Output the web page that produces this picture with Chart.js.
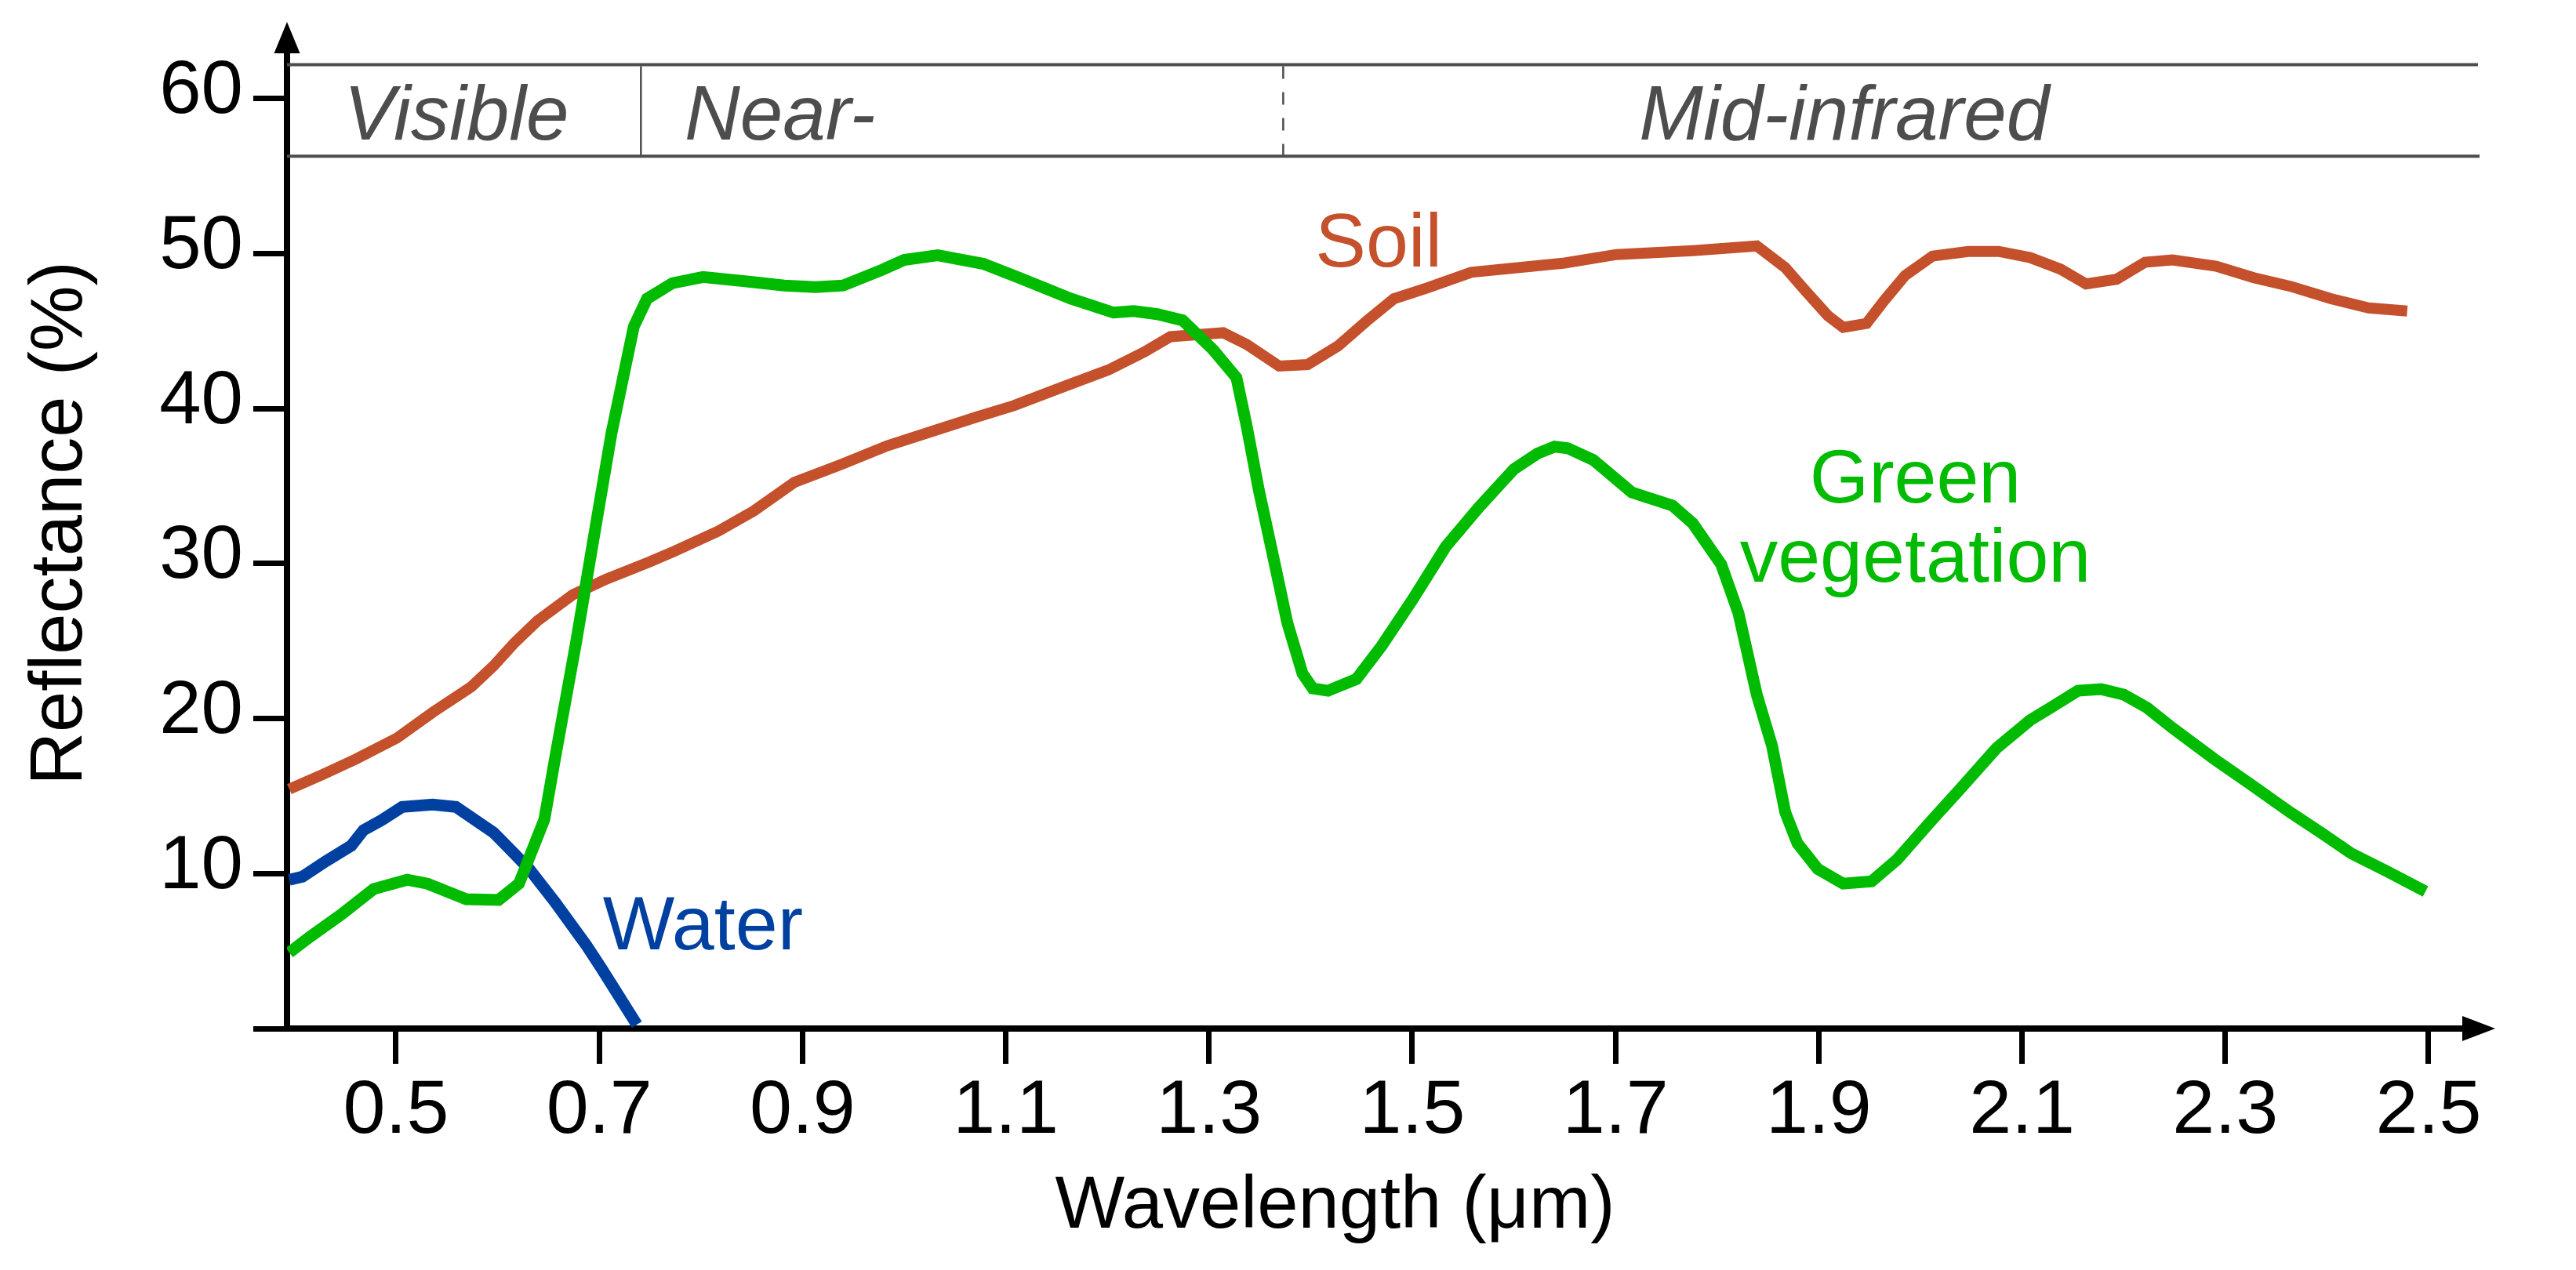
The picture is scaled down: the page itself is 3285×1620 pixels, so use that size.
<!DOCTYPE html>
<html>
<head>
<meta charset="utf-8">
<script src="https://cdn.jsdelivr.net/npm/chart.js@4.4.1/dist/chart.umd.min.js"></script>
<style>
html,body{margin:0;padding:0;background:#ffffff;}
#wrap{width:3285px;height:1620px;position:relative;}
</style>
</head>
<body>
<div id="wrap"><canvas id="c" width="3285" height="1620"></canvas></div>
<script>
// ---------------- data ----------------
const xTicks = [0.5, 0.7, 0.9, 1.1, 1.3, 1.5, 1.7, 1.9, 2.1, 2.3, 2.5];
const xTickLabels = ['0.5', '0.7', '0.9', '1.1', '1.3', '1.5', '1.7', '1.9', '2.1', '2.3', '2.5'];
const yTicks = [0, 10, 20, 30, 40, 50, 60];
const yTickLabels = ['', '10', '20', '30', '40', '50', '60'];

const soilX = [0.395, 0.428, 0.461, 0.501, 0.536, 0.574, 0.596, 0.616, 0.639, 0.674, 0.707, 0.749, 0.774, 0.817, 0.852, 0.892, 0.938, 0.983, 1.028, 1.073, 1.108, 1.154, 1.201, 1.236, 1.262, 1.314, 1.337, 1.369, 1.397, 1.427, 1.455, 1.482, 1.515, 1.558, 1.650, 1.701, 1.776, 1.839, 1.867, 1.887, 1.909, 1.924, 1.947, 1.964, 1.985, 2.012, 2.047, 2.077, 2.108, 2.138, 2.163, 2.193, 2.221, 2.248, 2.291, 2.328, 2.364, 2.404, 2.441, 2.479];
const soilY = [15.45, 16.4, 17.4, 18.75, 20.4, 22.05, 23.4, 24.85, 26.3, 28.0, 29.0, 30.1, 30.8, 32.1, 33.4, 35.25, 36.4, 37.6, 38.55, 39.5, 40.2, 41.35, 42.5, 43.65, 44.65, 44.9, 44.15, 42.75, 42.85, 44.05, 45.65, 47.1, 47.8, 48.8, 49.4, 49.95, 50.2, 50.5, 49.1, 47.6, 46.0, 45.25, 45.5, 46.95, 48.6, 49.85, 50.15, 50.15, 49.75, 49.0, 48.05, 48.35, 49.45, 49.6, 49.2, 48.45, 47.9, 47.1, 46.5, 46.3];

const vegX = [0.395, 0.415, 0.446, 0.478, 0.511, 0.531, 0.569, 0.601, 0.621, 0.646, 0.656, 0.677, 0.694, 0.712, 0.734, 0.747, 0.772, 0.802, 0.847, 0.882, 0.913, 0.940, 0.978, 1.000, 1.033, 1.078, 1.113, 1.164, 1.206, 1.226, 1.249, 1.274, 1.304, 1.327, 1.337, 1.349, 1.362, 1.377, 1.392, 1.402, 1.417, 1.445, 1.470, 1.500, 1.533, 1.565, 1.600, 1.623, 1.640, 1.653, 1.678, 1.716, 1.756, 1.776, 1.804, 1.821, 1.839, 1.854, 1.867, 1.879, 1.899, 1.924, 1.952, 1.977, 2.012, 2.037, 2.075, 2.108, 2.128, 2.155, 2.178, 2.200, 2.223, 2.248, 2.289, 2.324, 2.364, 2.394, 2.424, 2.459, 2.497];
const vegY = [4.9, 5.9, 7.35, 9.0, 9.6, 9.35, 8.35, 8.3, 9.35, 13.5, 17.25, 24.85, 31.45, 38.4, 45.3, 47.1, 48.1, 48.5, 48.2, 47.95, 47.85, 47.95, 48.95, 49.6, 49.9, 49.35, 48.45, 47.1, 46.2, 46.3, 46.1, 45.7, 43.8, 42.0, 38.9, 34.75, 30.8, 26.2, 22.9, 21.95, 21.8, 22.55, 24.7, 27.65, 31.1, 33.6, 36.1, 37.1, 37.55, 37.45, 36.7, 34.6, 33.75, 32.6, 29.95, 26.8, 21.55, 18.25, 13.95, 11.95, 10.3, 9.35, 9.5, 10.9, 13.5, 15.3, 18.1, 19.9, 20.7, 21.8, 21.9, 21.55, 20.7, 19.4, 17.4, 15.8, 13.95, 12.65, 11.3, 10.15, 8.85];

const waterX = [0.395, 0.408, 0.431, 0.456, 0.468, 0.486, 0.506, 0.536, 0.559, 0.596, 0.611, 0.631, 0.656, 0.687, 0.702, 0.737];
const waterY = [9.6, 9.8, 10.8, 11.8, 12.8, 13.45, 14.3, 14.45, 14.3, 12.65, 11.65, 10.3, 8.2, 5.4, 3.9, 0.25];

// spectral regions band (wavelengths in µm, heights in % units)
const bandNames = ['Visible', 'Near-', 'Mid-infrared'];
const bandLabelX = [0.5594, 0.784, 1.925];
const bandLabelAlign = ['center', 'left', 'center'];
const bandDividers = [0.741, 1.373];
const bandDividerDashed = [false, true];
const bandTop = 62.2;
const bandBottom = 56.3;
const bandLabelBase = 57.37;

// series labels
const seriesLabelText = ['Soil', 'Green', 'vegetation', 'Water'];
const seriesLabelX = [1.467, 1.995, 1.995, 0.802];
const seriesLabelY = [49.17, 33.95, 28.84, 5.11];
const seriesLabelColor = ['#c4502c', '#00bb00', '#00bb00', '#0040a0'];

const X_MIN = 0.39275, X_MAX = 2.5525;
const Y_MIN = 0, Y_MAX = 64.3;

// ---------------- chart ----------------
const FONT = '"Liberation Sans", Arial, Helvetica, sans-serif';
const toPts = (xs, ys) => xs.map((x, i) => ({x: x, y: ys[i]}));

function shiftTitle(scale, dx, dy) {
  if (scale.__shifted) return;
  const orig = scale.drawTitle.bind(scale);
  scale.drawTitle = function () {
    const ctx = scale.ctx;
    ctx.save();
    ctx.translate(dx, dy);
    orig();
    ctx.restore();
  };
  scale.__shifted = true;
}

const extras = {
  id: 'extras',
  beforeDraw(chart) {
    shiftTitle(chart.scales.x, -63, 0);
    shiftTitle(chart.scales.y, 0, -9);
  },
  afterDraw(chart) {
    const ctx = chart.ctx;
    const xs = chart.scales.x, ys = chart.scales.y;
    const area = chart.chartArea;
    const px = v => xs.getPixelForValue(v);
    const py = v => ys.getPixelForValue(v);
    ctx.save();
    ctx.fillStyle = '#000';
    const ax = area.left;
    const y0 = py(0);
    // y arrow
    const yTip = area.top - 13;
    ctx.beginPath();
    ctx.moveTo(ax, yTip);
    ctx.lineTo(ax - 16.5, yTip + 40);
    ctx.lineTo(ax + 16.5, yTip + 40);
    ctx.closePath();
    ctx.fill();
    // x arrow
    const xTip = area.right + 17;
    ctx.fillRect(area.right - 2, y0 - 4, 6, 8);
    ctx.beginPath();
    ctx.moveTo(xTip, y0);
    ctx.lineTo(xTip - 42, y0 - 16);
    ctx.lineTo(xTip - 42, y0 + 16);
    ctx.closePath();
    ctx.fill();

    // band lines
    ctx.strokeStyle = '#4d4d4d';
    ctx.lineWidth = 4;
    const bt = py(bandTop), bb = py(bandBottom);
    ctx.beginPath();
    ctx.moveTo(ax, bt); ctx.lineTo(area.right - 5, bt);
    ctx.moveTo(ax, bb); ctx.lineTo(area.right - 3, bb);
    ctx.stroke();
    ctx.lineWidth = 2.5;
    bandDividers.forEach((d, i) => {
      ctx.setLineDash(bandDividerDashed[i] ? [16, 17] : []);
      ctx.beginPath();
      ctx.moveTo(px(d), bt + 2);
      ctx.lineTo(px(d), bb);
      ctx.stroke();
    });
    ctx.setLineDash([]);
    ctx.fillStyle = '#4d4d4d';
    ctx.font = 'italic 98px ' + FONT;
    ctx.textBaseline = 'alphabetic';
    bandNames.forEach((t, i) => {
      ctx.textAlign = bandLabelAlign[i];
      ctx.fillText(t, px(bandLabelX[i]), py(bandLabelBase));
    });

    // series labels
    ctx.font = '97px ' + FONT;
    ctx.textAlign = 'center';
    seriesLabelText.forEach((t, i) => {
      ctx.fillStyle = seriesLabelColor[i];
      ctx.fillText(t, px(seriesLabelX[i]), py(seriesLabelY[i]));
    });
    ctx.restore();
  }
};

new Chart(document.getElementById('c'), {
  type: 'line',
  data: {
    datasets: [
      {label: 'Green vegetation', data: toPts(vegX, vegY), borderColor: '#00bb00', borderWidth: 15, pointRadius: 0, tension: 0, fill: false},
      {label: 'Soil', data: toPts(soilX, soilY), borderColor: '#c4502c', borderWidth: 14, pointRadius: 0, tension: 0, fill: false},
      {label: 'Water', data: toPts(waterX, waterY), borderColor: '#0040a0', borderWidth: 15, pointRadius: 0, tension: 0, fill: false}
    ]
  },
  options: {
    responsive: false,
    devicePixelRatio: 1,
    animation: false,
    events: [],
    layout: {padding: {left: 0, top: 41, right: 120, bottom: 0}},
    plugins: {legend: {display: false}, tooltip: {enabled: false}, title: {display: false}},
    scales: {
      x: {
        type: 'linear', position: 'bottom', min: X_MIN, max: X_MAX,
        afterFit(s) { s.height = 308; s.paddingLeft = 0; s.paddingRight = 0; },
        afterBuildTicks(s) { s.ticks = xTicks.map(v => ({value: v})); },
        ticks: {
          autoSkip: false, maxRotation: 0, minRotation: 0, padding: 3,
          color: '#000', font: {family: FONT, size: 97},
          callback: (v, i) => xTickLabels[i]
        },
        grid: {drawOnChartArea: false, drawTicks: true, tickLength: 45, tickWidth: 7, tickColor: '#000', color: '#000'},
        border: {display: true, color: '#000', width: 8},
        title: {display: true, text: 'Wavelength (μm)', color: '#000', font: {family: FONT, size: 94}, padding: {top: 0, bottom: 24}}
      },
      y: {
        type: 'linear', position: 'left', min: Y_MIN, max: Y_MAX,
        afterFit(s) { s.width = 366; s.paddingTop = 0; s.paddingBottom = 0; },
        afterBuildTicks(s) { s.ticks = yTicks.map(v => ({value: v})); },
        ticks: {
          padding: 13, labelOffset: -8,
          color: '#000', font: {family: FONT, size: 96},
          callback: (v, i) => yTickLabels[i]
        },
        grid: {drawOnChartArea: false, drawTicks: true, tickLength: 43, tickWidth: 7, tickColor: '#000', color: '#000'},
        border: {display: true, color: '#000', width: 8},
        title: {display: true, text: 'Reflectance (%)', color: '#000', font: {family: FONT, size: 94}, padding: {top: 22, bottom: 0}}
      }
    }
  },
  plugins: [extras]
});
</script>
</body>
</html>
